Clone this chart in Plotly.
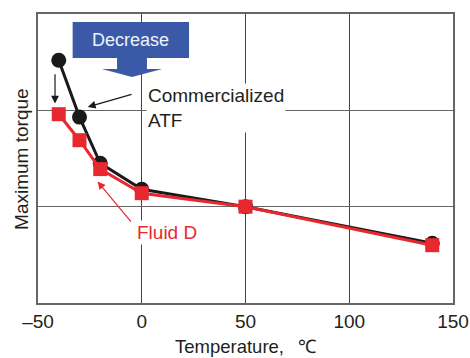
import plotly.graph_objects as go

temps = [-40, -30, -20, 0, 50, 140]
commercial_atf = [2.52, 1.93, 1.45, 1.18, 1.0, 0.62]
fluid_d = [1.96, 1.69, 1.39, 1.14, 1.0, 0.60]
x_ticks = [-50, 0, 50, 100, 150]
x_tick_labels = ["\u201350", "0", "50", "100", "150"]
y_grid = [0, 1, 2, 3]

FONT = "Liberation Sans, Arial, sans-serif"
BLACK = "#1a1a1a"
RED = "#e8282f"
BLUE = "#3a5aa8"

fig = go.Figure()
fig.add_trace(go.Scatter(
    x=temps, y=commercial_atf, mode="lines+markers",
    line=dict(color=BLACK, width=3),
    marker=dict(symbol="circle", size=15, color=BLACK),
    name="Commercialized ATF", showlegend=False))
fig.add_trace(go.Scatter(
    x=temps, y=fluid_d, mode="lines+markers",
    line=dict(color=RED, width=3),
    marker=dict(symbol="square", size=14, color=RED),
    name="Fluid D", showlegend=False))

# "Decrease" block arrow
fig.add_shape(
    type="path", xref="x", yref="y",
    path=("M -33.3 2.917 L 22.8 2.917 L 22.8 2.543 L 2.5 2.543 L 2.5 2.429 "
          "L 9.8 2.429 L -4.7 2.346 L -19.2 2.429 L -11.9 2.429 L -11.9 2.543 "
          "L -33.3 2.543 Z"),
    fillcolor=BLUE, line=dict(width=0), layer="above")

annotations = [
    dict(x=-5.6, y=2.725, xref="x", yref="y", text="Decrease", showarrow=False,
         font=dict(family=FONT, size=18, color="#eef2fb")),
    dict(x=2.0, y=2.02, xref="x", yref="y", xanchor="left", yanchor="middle",
         text="Commercialized<br>ATF", align="left", showarrow=False,
         bgcolor="white", font=dict(family=FONT, size=19, color="#231f20")),
    dict(x=12.2, y=0.727, xref="x", yref="y", text="Fluid D", showarrow=False,
         bgcolor="white", font=dict(family=FONT, size=19, color=RED)),
    # arrows
    dict(x=-41.8, y=2.07, ax=-41.8, ay=2.39, xref="x", yref="y", axref="x", ayref="y",
         text="", showarrow=True, arrowhead=2, arrowsize=1.3, arrowwidth=1.2, arrowcolor=BLACK),
    dict(x=-26.0, y=2.035, ax=-4.2, ay=2.17, xref="x", yref="y", axref="x", ayref="y",
         text="", showarrow=True, arrowhead=2, arrowsize=1.3, arrowwidth=1.2, arrowcolor=BLACK),
    dict(x=-21.3, y=1.26, ax=-4.6, ay=0.83, xref="x", yref="y", axref="x", ayref="y",
         text="", showarrow=True, arrowhead=2, arrowsize=1.3, arrowwidth=1.2, arrowcolor=RED),
    # axis titles
    dict(x=0.5, y=-43 / 289, xref="paper", yref="paper", yanchor="middle",
         text="Temperature,\u2002 \u2103", showarrow=False,
         font=dict(family=FONT, size=18.5, color="#231f20")),
    dict(x=-0.04, y=0.5, xref="paper", yref="paper", xanchor="center", yanchor="middle",
         text="Maximum torque", textangle=-90, showarrow=False,
         font=dict(family=FONT, size=19, color="#231f20")),
]

fig.update_layout(
    width=470, height=358, autosize=False,
    margin=dict(l=38, r=17, t=14, b=55),
    paper_bgcolor="white", plot_bgcolor="white",
    font=dict(family=FONT, size=19, color="#231f20"),
    annotations=annotations,
    showlegend=False,
)
fig.update_xaxes(
    range=[-50, 150], tickvals=x_ticks, ticktext=x_tick_labels,
    automargin=False,
    showgrid=True, gridcolor="#444", gridwidth=1.3,
    showline=True, linecolor="#666", linewidth=2, mirror=True,
    zeroline=False, ticks="", tickfont=dict(size=19, color="#231f20"))
fig.update_yaxes(
    range=[0, 3], tickvals=y_grid, showticklabels=False,
    automargin=False,
    showgrid=True, gridcolor="#666", gridwidth=1.3,
    showline=True, linecolor="#666", linewidth=2, mirror=True,
    zeroline=False, ticks="")

fig.write_html("out.html")
